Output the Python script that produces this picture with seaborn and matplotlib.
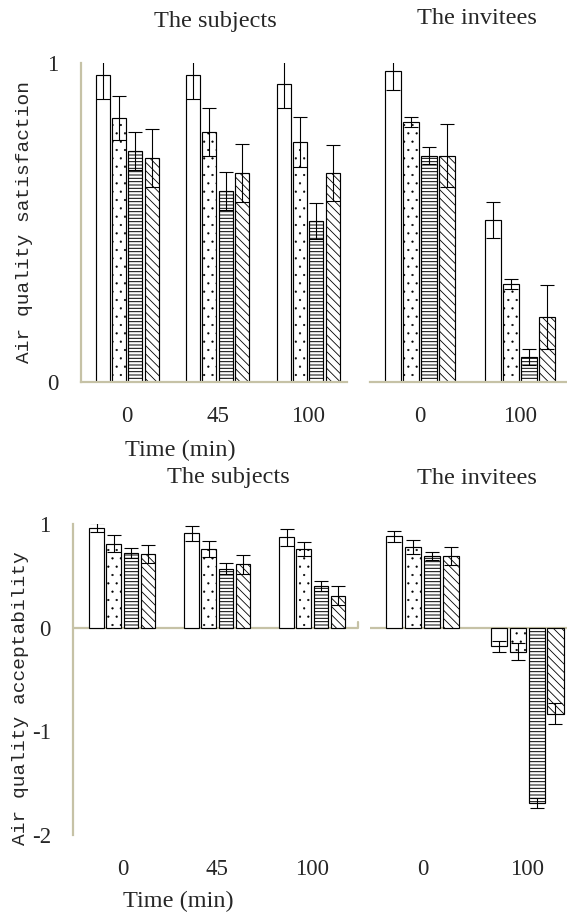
import numpy as np
import pandas as pd
import matplotlib
matplotlib.use("Agg")
import matplotlib.pyplot as plt
import seaborn as sns

# Four exposure conditions, drawn as plain / dotted / lined / hatched bars
series = ["Condition 1", "Condition 2", "Condition 3", "Condition 4"]
hatches = ["", "..", "-----", "\\\\\\\\"]
hatch_widths = [0.6, 0.35, 0.7, 0.6]

# Time points (min)
times_subjects = ["0", "45", "100"]
times_invitees = ["0", "100"]

# Air quality satisfaction: rows = time point, columns = condition
sat_subjects_mean = [[0.962, 0.828, 0.724, 0.702],
                     [0.962, 0.784, 0.599, 0.655],
                     [0.934, 0.752, 0.505, 0.655]]
sat_subjects_err = [[0.075, 0.070, 0.060, 0.090],
                    [0.075, 0.075, 0.060, 0.090],
                    [0.075, 0.078, 0.056, 0.088]]
sat_invitees_mean = [[0.975, 0.815, 0.710, 0.710],
                     [0.508, 0.307, 0.078, 0.204]]
sat_invitees_err = [[0.060, 0.015, 0.028, 0.100],
                    [0.057, 0.016, 0.025, 0.100]]

# Air quality acceptability
acc_subjects_mean = [[0.966, 0.81, 0.72, 0.71],
                     [0.91, 0.76, 0.57, 0.61],
                     [0.87, 0.76, 0.40, 0.31]]
acc_subjects_err = [[0.04, 0.08, 0.05, 0.09],
                    [0.075, 0.08, 0.05, 0.09],
                    [0.08, 0.07, 0.05, 0.09]]
acc_invitees_mean = [[0.88, 0.78, 0.69, 0.69],
                     [-0.18, -0.23, -1.69, -0.83]]
acc_invitees_err = [[0.05, 0.07, 0.04, 0.09],
                    [0.05, 0.08, 0.05, 0.10]]

sns.set_style("white")
plt.rcParams["font.family"] = ["Liberation Serif", "DejaVu Serif"]
plt.rcParams["hatch.linewidth"] = 0.6
plt.rcParams["hatch.color"] = "black"

AXIS_COLOR = "#c6c2a6"
W, H = 567, 918
fig = plt.figure(figsize=(W / 100, H / 100), dpi=100)


def px_axes(x0, x1, ytop, ybot):
    return fig.add_axes([x0 / W, 1 - ybot / H, (x1 - x0) / W, (ybot - ytop) / H])


def panel(ax, times, means, errs, xlim, ylim, yticks, left_spine, zero_line):
    df = pd.DataFrame(
        [(t, s, means[i][j]) for i, t in enumerate(times) for j, s in enumerate(series)],
        columns=["time", "series", "value"],
    )
    sns.barplot(data=df, x="time", y="value", hue="series", order=times,
                hue_order=series, palette={s: "white" for s in series},
                edgecolor="black", linewidth=0.85, width=0.72, gap=0.14,
                errorbar=None, legend=False, ax=ax, zorder=2)
    bar_groups = list(ax.containers)
    for j, cont in enumerate(bar_groups):
        for i, bar in enumerate(cont):
            bar.set_hatch(hatches[j])
            if hasattr(bar, "set_hatch_linewidth"):
                bar.set_hatch_linewidth(hatch_widths[j])
            x = bar.get_x() + bar.get_width() / 2
            ax.errorbar(x, means[i][j], yerr=errs[i][j], fmt="none",
                        ecolor="black", elinewidth=0.8, capsize=4.8,
                        capthick=0.8, zorder=3)
    ax.set_xlim(*xlim)
    ax.set_ylim(*ylim)
    ax.set_xlabel("")
    ax.set_ylabel("")
    for side in ["top", "right"]:
        ax.spines[side].set_visible(False)
    ax.spines["left"].set_visible(left_spine)
    ax.spines["left"].set_color(AXIS_COLOR)
    ax.spines["left"].set_linewidth(1.6)
    if zero_line:
        ax.spines["bottom"].set_visible(False)
        ax.axhline(0, color=AXIS_COLOR, linewidth=1.6, zorder=1)
    else:
        ax.spines["bottom"].set_color(AXIS_COLOR)
        ax.spines["bottom"].set_linewidth(1.6)
    ax.tick_params(axis="both", length=0, labelsize=16.5)
    ax.tick_params(axis="x", pad=17)
    ax.tick_params(axis="y", pad=16)
    if left_spine:
        ax.set_yticks(yticks)
        ax.set_yticklabels([str(v) for v in yticks])
    else:
        ax.set_yticks([])
    ax.patch.set_alpha(0)


ax1 = px_axes(81, 347, 63, 382)
panel(ax1, times_subjects, sat_subjects_mean, sat_subjects_err,
      (-0.51, 2.43), (0, 1), [0, 1], True, False)
ax2 = px_axes(370, 567, 63, 382)
panel(ax2, times_invitees, sat_invitees_mean, sat_invitees_err,
      (-0.5, 1.47), (0, 1), [0, 1], False, False)
ax3 = px_axes(73, 358, 524, 835)
panel(ax3, times_subjects, acc_subjects_mean, acc_subjects_err,
      (-0.52, 2.48), (-2, 1), [1, 0, -1, -2], True, True)
ax4 = px_axes(370, 567, 524, 835)
panel(ax4, times_invitees, acc_invitees_mean, acc_invitees_err,
      (-0.5, 1.38), (-2, 1), [1, 0, -1, -2], False, True)

# small end tick closing the zero line of the lower-left panel
ax3.plot([1, 1], [0, 0.05], transform=ax3.get_yaxis_transform(),
         color=AXIS_COLOR, linewidth=1.6, clip_on=False, zorder=1)

# Panel titles
title_kw = dict(fontsize=17.5, ha="center", va="center")
fig.text(215 / W, 1 - 22 / H, "The subjects", **title_kw)
fig.text(477 / W, 1 - 18 / H, "The invitees", **title_kw)
fig.text(228 / W, 1 - 478 / H, "The subjects", **title_kw)
fig.text(477 / W, 1 - 478 / H, "The invitees", **title_kw)

# Axis titles
fig.text(180 / W, 1 - 450 / H, "Time (min)", fontsize=17.5, ha="center", va="center")
fig.text(178 / W, 1 - 901 / H, "Time (min)", fontsize=17.5, ha="center", va="center")
ylab_kw = dict(fontsize=14, rotation=90, ha="center", va="center",
               family=["Liberation Mono", "DejaVu Sans Mono"])
fig.text(25 / W, 1 - 222 / H, "Air quality satisfaction", **ylab_kw)
fig.text(21 / W, 1 - 698 / H, "Air quality acceptability", **ylab_kw)

fig.savefig("out.png", dpi=100)
